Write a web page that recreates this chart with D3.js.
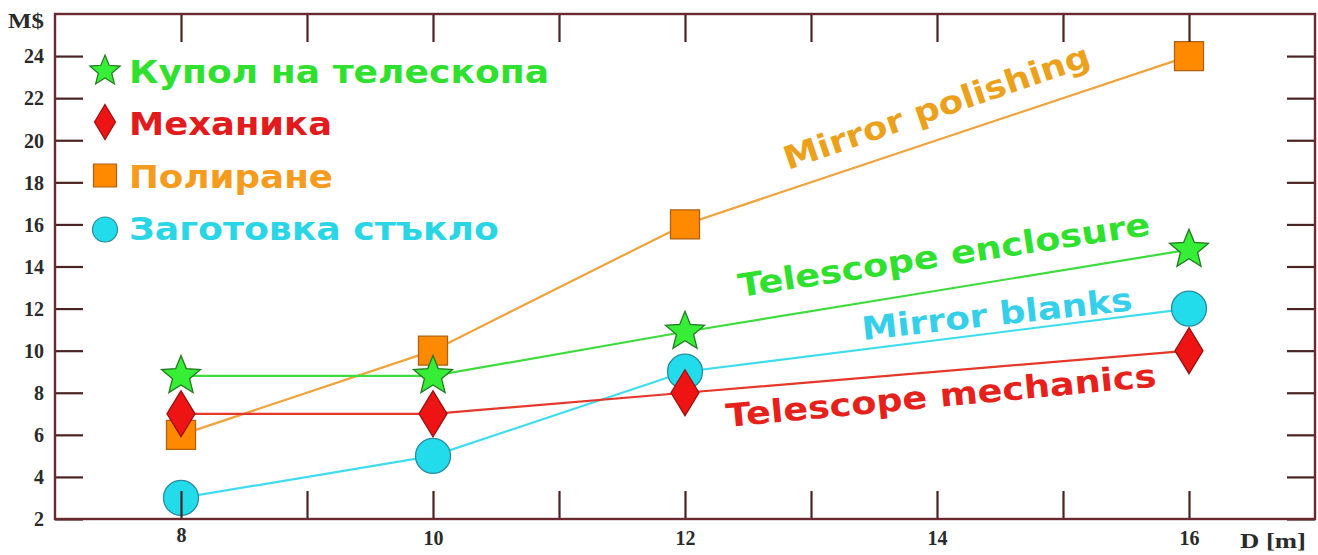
<!DOCTYPE html>
<html>
<head>
<meta charset="utf-8">
<script src="https://cdn.jsdelivr.net/npm/d3@7"></script>
<style>
  html, body { margin: 0; padding: 0; background: #fff; }
  svg { display: block; }
</style>
</head>
<body>
<svg id="chart" width="1318" height="555"></svg>
<script>
// Telescope cost components versus mirror diameter
const diameters = [8, 10, 12, 16];
const enclosure = [8.8, 8.8, 10.9, 14.8];   // Купол на телескопа
const mechanics = [7, 7, 8, 10];            // Механика
const polishing = [6, 10, 16, 24];          // Полиране
const blanks = [3, 5, 9, 12];               // Заготовка стъкло

const xTicks = [8, 9, 10, 11, 12, 13, 14, 15, 16];
const xTickLabels = ["8", "", "10", "", "12", "", "14", "", "16"];
const yTicks = [2, 4, 6, 8, 10, 12, 14, 16, 18, 20, 22, 24];
const yTickLabels = ["2", "4", "6", "8", "10", "12", "14", "16", "18", "20", "22", "24"];

const legendNames = ["Купол на телескопа", "Механика", "Полиране", "Заготовка стъкло"];
const curveNames = ["Telescope enclosure", "Telescope mechanics", "Mirror polishing", "Mirror blanks"];

const svg = d3.select("#chart");
const frame = { left: 55, top: 14, right: 1315, bottom: 519 };

const x = d3.scaleLinear().domain([7, 17]).range([frame.left, frame.right]);
const y = d3.scaleLinear().domain([2, 26]).range([frame.bottom, frame.top]);

// five-pointed star path centred on the origin
function starPath(R, ratio) {
  const pts = [];
  for (let i = 0; i < 10; i++) {
    const r = i % 2 === 0 ? R : R * ratio;
    const a = -Math.PI / 2 + i * Math.PI / 5;
    pts.push([r * Math.cos(a), r * Math.sin(a)]);
  }
  return "M" + pts.map(p => p[0].toFixed(2) + "," + p[1].toFixed(2)).join("L") + "Z";
}
function diamondPath(w, h) {
  return `M0,${-h / 2}L${w / 2},0L0,${h / 2}L${-w / 2},0Z`;
}
function squarePath(s) {
  return `M${-s / 2},${-s / 2}h${s}v${s}h${-s}Z`;
}
function circlePath(r) {
  return `M${r},0A${r},${r} 0 1,1 ${-r},0A${r},${r} 0 1,1 ${r},0Z`;
}

const series = [
  { key: "polishing", values: polishing, line: "#f0a33a", fill: "#ff8a00", stroke: "#b06010",
    mark: squarePath(29), legendMark: squarePath(23), text: "#f59b1e", legendY: 188, legendMY: 175.5,
    legendLen: 204, curve: curveNames[2], curveColor: "#eca11c", cx: 788, cy: 170, ang: -19, clen: 322 },
  { key: "blanks", values: blanks, line: "#3fdcef", fill: "#22dcec", stroke: "#2a8c9c",
    mark: circlePath(17.5), legendMark: circlePath(12.5), text: "#2ad6e6", legendY: 240, legendMY: 229.5,
    legendLen: 370, curve: curveNames[3], curveColor: "#36cfea", cx: 863, cy: 340, ang: -6.3, clen: 272 },
  { key: "mechanics", values: mechanics, line: "#e6382a", fill: "#ee1414", stroke: "#9a1010",
    mark: diamondPath(28, 46), legendMark: diamondPath(21, 35), text: "#e21c1c", legendY: 135, legendMY: 122,
    legendLen: 203, curve: curveNames[1], curveColor: "#e6211b", cx: 727, cy: 427, ang: -5.4, clen: 432 },
  { key: "enclosure", values: enclosure, line: "#3fdc3f", fill: "#35ee35", stroke: "#237a23",
    mark: starPath(20.5, 0.44), legendMark: starPath(16, 0.44), text: "#2fe02f", legendY: 83, legendMY: 71,
    legendLen: 420, curve: curveNames[0], curveColor: "#2fe02f", cx: 740, cy: 297, ang: -8.6, clen: 416 }
];
const legendOrder = ["enclosure", "mechanics", "polishing", "blanks"];

// connecting lines
const line = d3.line().x(d => x(d[0])).y(d => y(d[1]));
svg.append("g").selectAll("path")
  .data(series)
  .join("path")
  .attr("fill", "none")
  .attr("stroke", d => d.line)
  .attr("stroke-width", 2.2)
  .attr("d", d => line(diameters.map((v, i) => [v, d.values[i]])));

// markers
series.forEach(s => {
  svg.append("g").selectAll("path")
    .data(diameters.map((v, i) => [v, s.values[i]]))
    .join("path")
    .attr("d", s.mark)
    .attr("transform", d => `translate(${x(d[0])},${y(d[1])})`)
    .attr("fill", s.fill)
    .attr("stroke", s.stroke)
    .attr("stroke-width", 1.3);
});

// axes on all four sides, ticks pointing inward
const tickLen = 28;
const axisColor = "#4a2222";
const serif = "'Liberation Serif', 'Times New Roman', serif";

const gLeft = svg.append("g").attr("transform", `translate(${frame.left},0)`)
  .call(d3.axisLeft(y).tickValues(yTicks).tickSize(-tickLen).tickSizeOuter(0)
    .tickPadding(11).tickFormat((d, i) => yTickLabels[i]));
const gRight = svg.append("g").attr("transform", `translate(${frame.right},0)`)
  .call(d3.axisRight(y).tickValues(yTicks).tickSize(-tickLen).tickSizeOuter(0).tickFormat(""));
const gTop = svg.append("g").attr("transform", `translate(0,${frame.top})`)
  .call(d3.axisTop(x).tickValues(xTicks).tickSize(-tickLen).tickSizeOuter(0).tickFormat(""));
const gBottom = svg.append("g").attr("transform", `translate(0,${frame.bottom})`)
  .call(d3.axisBottom(x).tickValues(xTicks).tickSize(-tickLen).tickSizeOuter(0)
    .tickPadding(12).tickFormat((d, i) => xTickLabels[i]));

[gLeft, gRight, gTop, gBottom].forEach(g => {
  g.select(".domain").remove();
  g.selectAll(".tick line").attr("stroke", axisColor).attr("stroke-width", 2.2);
  g.selectAll(".tick text")
    .attr("fill", "#2a2a2a")
    .style("font-family", serif)
    .style("font-weight", "bold")
    .style("font-size", "20px");
});
gLeft.selectAll(".tick text").attr("dy", "0.34em");
gBottom.selectAll(".tick text").attr("dy", null).attr("y", 26)
  .filter(d => d === 8).attr("y", 23);

// plot frame
svg.append("rect")
  .attr("x", frame.left).attr("y", frame.top)
  .attr("width", frame.right - frame.left).attr("height", frame.bottom - frame.top)
  .attr("fill", "none").attr("stroke", "#6a2830").attr("stroke-width", 2.4);

// axis titles
svg.append("text").attr("x", 8).attr("y", 28).text("M$")
  .attr("textLength", 36).attr("lengthAdjust", "spacingAndGlyphs")
  .style("font-family", serif).style("font-weight", "bold").style("font-size", "20px")
  .attr("fill", "#2a2a2a");
svg.append("text").attr("x", 1240).attr("y", 548).text("D [m]")
  .attr("textLength", 66).attr("lengthAdjust", "spacingAndGlyphs")
  .style("font-family", serif).style("font-weight", "bold").style("font-size", "22px")
  .attr("fill", "#2a2a2a");

const sans = "'DejaVu Sans', Verdana, sans-serif";

// legend
const bySeries = Object.fromEntries(series.map(s => [s.key, s]));
legendOrder.forEach((k, i) => {
  const s = bySeries[k];
  svg.append("path").attr("d", s.legendMark)
    .attr("transform", `translate(105,${s.legendMY})`)
    .attr("fill", s.fill).attr("stroke", s.stroke).attr("stroke-width", 1.2);
  svg.append("text").attr("x", 129).attr("y", s.legendY).text(legendNames[i])
    .attr("textLength", s.legendLen).attr("lengthAdjust", "spacingAndGlyphs")
    .style("font-family", sans).style("font-weight", "bold").style("font-size", "32px")
    .attr("fill", s.text);
});

// curve annotations
series.forEach(s => {
  svg.append("text")
    .attr("transform", `translate(${s.cx},${s.cy}) rotate(${s.ang})`)
    .text(s.curve)
    .attr("textLength", s.clen).attr("lengthAdjust", "spacingAndGlyphs")
    .style("font-family", sans).style("font-weight", "bold").style("font-size", "32px")
    .attr("fill", s.curveColor);
});
</script>
</body>
</html>
